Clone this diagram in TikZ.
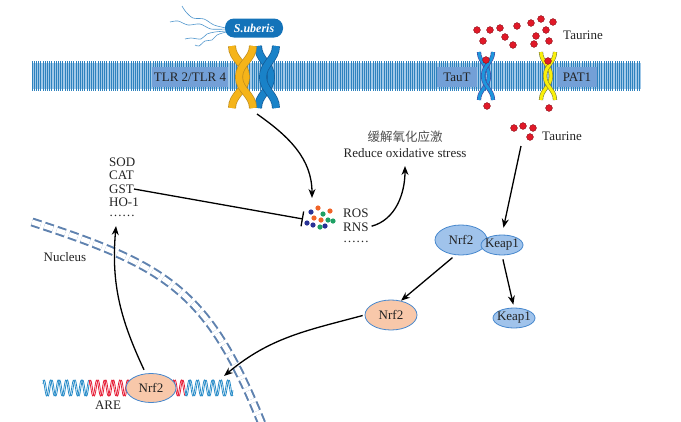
\documentclass[tikz,border=0pt]{standalone}
\usepackage{fontspec}
\setmainfont{Liberation Serif}
\newfontfamily\cjk{Noto Sans CJK SC}
\usetikzlibrary{arrows.meta,shapes.geometric}
\definecolor{membase}{RGB}{160,200,232}
\definecolor{memline}{RGB}{45,130,190}
\definecolor{labbox}{RGB}{115,160,215}
\definecolor{tlryellow}{RGB}{245,180,25}
\definecolor{tlryedge}{RGB}{190,140,30}
\definecolor{tlrblue}{RGB}{25,130,200}
\definecolor{tlrbedge}{RGB}{20,90,150}
\definecolor{tautfill}{RGB}{30,150,220}
\definecolor{tautedge}{RGB}{70,70,160}
\definecolor{patfill}{RGB}{250,240,10}
\definecolor{patedge}{RGB}{130,130,60}
\definecolor{taured}{RGB}{225,25,40}
\definecolor{subblue}{RGB}{20,115,185}
\definecolor{flagblue}{RGB}{80,150,205}
\definecolor{nrfblue}{RGB}{160,195,235}
\definecolor{nrfedge}{RGB}{70,135,205}
\definecolor{nrfpeach}{RGB}{248,200,170}
\definecolor{nucblue}{RGB}{95,130,175}
\definecolor{dnablue}{RGB}{40,140,200}
\definecolor{dnared}{RGB}{230,30,55}
\definecolor{rosblue}{RGB}{40,50,150}
\definecolor{rosorange}{RGB}{240,100,40}
\definecolor{rosgreen}{RGB}{30,160,100}
\definecolor{txt}{RGB}{35,35,35}
\tikzset{
  memlabel/.style={fill=labbox,text=txt,inner sep=0pt,minimum height=20pt},
  arm/.style={line width=0.7pt,double distance=6.5pt},
  thinarm/.style={line width=0.6pt,double distance=3pt},
  taudot/.style={fill=taured,draw=taured!60!black,line width=0.4pt},
  flag/.style={flagblue,line width=0.6pt},
  pill/.style={fill=subblue,text=white,rounded corners=9pt,minimum width=58pt,
    minimum height=19pt,inner sep=0pt,font=\fontsize{12}{14}\selectfont\bfseries\itshape},
  lab/.style={text=txt,anchor=west,inner sep=0pt},
  protein/.style={ellipse,draw=nrfedge,line width=0.8pt,text=txt,inner sep=0pt},
  nrfbig/.style={protein,fill=nrfblue,minimum width=52pt,minimum height=30pt},
  keapsmall/.style={protein,fill=nrfblue,minimum width=42pt,minimum height=20pt,inner xsep=-4pt},
  nrfpink/.style={protein,fill=nrfpeach,minimum width=52pt,minimum height=30pt},
  nucleusline/.style={draw=nucblue,line width=2pt,double=white,double distance=5pt,
    dash pattern=on 9pt off 4pt},
  arr/.style={-{Stealth[length=9pt,width=7pt]},line width=1.3pt,black},
  inh/.style={-{Bar[width=15pt,line width=1.3pt]},line width=1.3pt,black}
}
\begin{document}
\begin{tikzpicture}[x=1pt,y=-1pt,font=\fontsize{13}{15}\selectfont]
\useasboundingbox (0,0) rectangle (681,421);
% membrane
\fill[membase] (32,63) rectangle (641,89);
\foreach \x in {32,34.2,...,641}
  \draw[memline,line width=0.8pt] (\x,61) -- (\x,91);
\node[memlabel,minimum width=76pt] (tlrlab) at (190,77) {TLR 2/TLR 4};
\node[memlabel,minimum width=40pt] (tautlab) at (457,77) {TauT};
\node[memlabel,minimum width=40pt] (pat1lab) at (577,77) {PAT1};
% receptors
\foreach \a/\b in {258/271,276/263}
  \draw[arm,draw=tlrbedge,double=tlrblue] (\a,46) to[out=-90,in=90] (\b,77) to[out=-90,in=90] (\a,108);
\foreach \a/\b in {232/246,253/239}
  \draw[arm,draw=tlryedge,double=tlryellow] (\a,46) to[out=-90,in=90] (\b,77) to[out=-90,in=90] (\a,108);
\foreach \a/\b in {479/489,493/483}
  \draw[thinarm,draw=tautedge,double=tautfill] (\a,52) to[out=-90,in=90] (\b,76) to[out=-90,in=90] (\a,100);
\foreach \a/\b in {541/551,555/545}
  \draw[thinarm,draw=patedge,double=patfill] (\a,52) to[out=-90,in=90] (\b,76) to[out=-90,in=90] (\a,100);
% taurine
\foreach \p in {(477,30),(490,30),(500,28),(517,26),(531,23),(541,19),(553,22),(483,41),
  (505,37),(513,45),(536,36),(546,30),(534,44),(549,41),(486,60),(548,61),(487,106),(549,108),
  (514,128),(523,126),(533,128),(530,137)}
  \filldraw[taudot] \p circle (3.4);
\node[text=txt] (tauup) at (583,35) {Taurine};
\node[text=txt] (taulow) at (562,136) {Taurine};
% bacterium
\draw[flag] plot[smooth] coordinates {(226,28) (214,25) (204,19) (193,18) (186,12) (182,6)};
\draw[flag] plot[smooth] coordinates {(226,29) (211,29) (200,24) (188,25) (178,21) (170,22)};
\draw[flag] plot[smooth] coordinates {(226,31) (215,32) (207,34) (201,39) (191,38) (185,39)};
\draw[flag] plot[smooth] coordinates {(226,32) (217,35) (212,40) (205,41) (199,46) (195,45)};
\node[pill] (suberis) at (254,28) {S.uberis};
% nucleus
\draw[nucleusline] (32,222) to[out=-18,in=112,looseness=1.2] (262,424);
\node[text=txt] (nucleus) at (65,257) {Nucleus};
% DNA
\foreach \ph in {0,70} {
  \draw[dnablue,line width=0.8pt] plot[domain=43:89,samples=80] (\x,{388+8*sin((\x/7.7)*360+\ph)});
  \draw[dnared,line width=0.8pt] plot[domain=89:185,samples=160] (\x,{388+8*sin((\x/7.7)*360+\ph)});
  \draw[dnablue,line width=0.8pt] plot[domain=185:233,samples=80] (\x,{388+8*sin((\x/7.7)*360+\ph)});
}
\node[nrfpink,minimum width=50pt,minimum height=29pt] (nrf2dna) at (151,388) {Nrf2};
\node[text=txt] (are) at (108,405) {ARE};
% enzymes
\node[lab] (sod) at (109,162) {SOD};
\node[lab] (cat) at (109,175) {CAT};
\node[lab] (gst) at (109,189) {GST};
\node[lab] (ho1) at (109,202) {HO-1};
\node[lab] (enzdots) at (109,216) {……};
% ROS
\foreach \p/\c in {(311,212)/rosblue,(307,223)/rosblue,(313,225)/rosblue,(325,226)/rosblue,
  (318,208)/rosorange,(330,211)/rosorange,(314,218)/rosorange,(321,220)/rosorange,
  (323,214)/rosgreen,(328,220)/rosgreen,(333,221)/rosgreen,(320,227)/rosgreen}
  \fill[\c] \p circle (2.6);
\node[lab] (ros) at (343,213) {ROS};
\node[lab] (rns) at (343,227) {RNS};
\node[lab] (rosdots) at (343,242) {……};
\node[text=txt!80] (stresscn) at (405,137) {\cjk\fontsize{12.5}{14}\selectfont 缓解氧化应激};
\node[text=txt] (stressen) at (405,153) {Reduce oxidative stress};
% Nrf2 / Keap1
\node[nrfbig] (nrf2c) at (461,240) {Nrf2};
\node[keapsmall] (keap1c) at (502,245) {Keap1};
\node[nrfpink] (nrf2free) at (391,315) {Nrf2};
\node[keapsmall] (keap1free) at (514,318) {Keap1};
% connectors
\coordinate (tlrfoot) at (257,114);
\coordinate (roshit) at (312,198);
\coordinate (rosinh) at (303,219);
\coordinate (stressin) at (405,166);
\coordinate (taudrop) at (521,146);
\coordinate (dnaend) at (224,376);
\coordinate (enzin) at (116,226);
\draw[arr] (tlrfoot) to[out=-35,in=90] (roshit);
\draw[inh] (gst.east) -- (rosinh);
\draw[arr,shorten <=3pt] (rns.east) to[out=15,in=-90] (stressin);
\draw[arr,shorten >=7pt] (taudrop) -- (keap1c.north);
\draw[arr,shorten <=4pt] (nrf2c.250) -- (nrf2free.55);
\draw[arr,shorten <=4pt,shorten >=3pt] (keap1c.south) -- (keap1free.north);
\draw[arr,shorten <=2pt] (nrf2free.west) to[out=195,in=40] (dnaend);
\draw[arr,shorten <=4pt] (nrf2dna.110) to[out=115,in=-95] (enzin);
\end{tikzpicture}
\end{document}
